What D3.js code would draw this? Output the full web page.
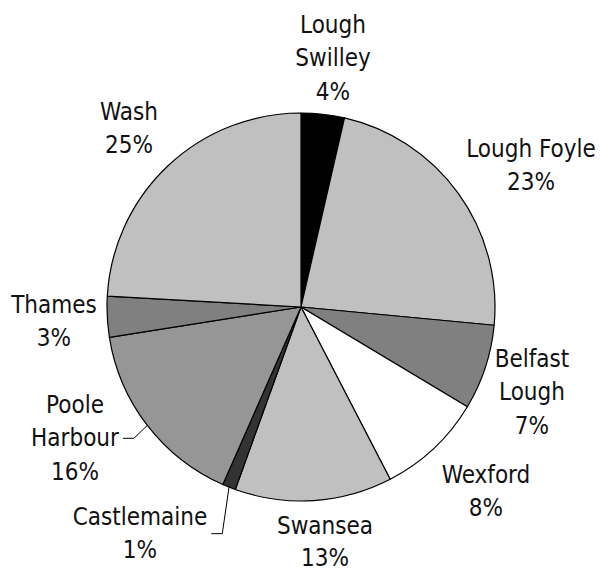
<!DOCTYPE html>
<html>
<head>
<meta charset="utf-8">
<script src="https://cdn.jsdelivr.net/npm/d3@7"></script>
<style>
  body { margin: 0; background: #fff; }
  text { font-family: "Liberation Sans Narrow", "DejaVu Sans Condensed", sans-serif; font-size: 24px; fill: #111; }
</style>
</head>
<body>
<svg id="chart" width="601" height="572"></svg>
<script>
// estuaries, clockwise from 12 o'clock
const names = ["Lough Swilley", "Lough Foyle", "Belfast Lough", "Wexford", "Swansea",
               "Castlemaine", "Poole Harbour", "Thames", "Wash"]
const shares = [3.6, 22.9, 7.1, 8.8, 13.1, 1.1, 15.9, 3.4, 24.1]
const pctLabels = ["4%", "23%", "7%", "8%", "13%", "1%", "16%", "3%", "25%"]
const labelLines = [["Lough", "Swilley"], ["Lough Foyle"], ["Belfast", "Lough"], ["Wexford"],
                    ["Swansea"], ["Castlemaine"], ["Poole", "Harbour"], ["Thames"], ["Wash"]]
const fills = ["#000000", "#c0c0c0", "#808080", "#ffffff", "#c0c0c0",
               "#333333", "#969696", "#808080", "#c0c0c0"]

// label anchors: centre x, baseline of first line
const labelPos = [[333, 33], [531, 157], [532, 367], [486, 483], [325, 534],
                  [140, 525], [75, 413], [54, 313], [129, 120]]
const leaders = {5: true, 6: true}

const cx = 301, cy = 307, radius = 194, lineH = 33.3

const svg = d3.select("#chart")
const g = svg.append("g").attr("transform", `translate(${cx},${cy})`)

const pie = d3.pie().sort(null).value((d) => d)
const arcs = pie(shares)
const arc = d3.arc().innerRadius(0).outerRadius(radius)

g.selectAll("path.slice")
    .data(arcs)
    .enter()
    .append("path")
    .classed("slice", true)
    .attr("d", arc)
    .attr("fill", (d, i) => fills[i])
    .attr("stroke", "#000")
    .attr("stroke-width", 1.2)
    .attr("stroke-linejoin", "round")

const labels = svg.selectAll("text.lbl")
    .data(arcs)
    .enter()
    .append("text")
    .classed("lbl", true)
    .attr("text-anchor", "middle")

labels.each(function (d, i) {
    const t = d3.select(this)
    const lines = labelLines[i].concat([pctLabels[i]])
    lines.forEach((s, k) => {
        t.append("tspan")
            .attr("x", labelPos[i][0])
            .attr("y", labelPos[i][1] + k * (i === 4 ? 32 : lineH))
            .text(s)
    })
})

// leader lines for the two small left-hand labels
Object.keys(leaders).forEach((k) => {
    const i = +k
    const a = arcs[i]
    const mid = (a.startAngle + a.endAngle) / 2
    const ex = cx + radius * Math.sin(mid)
    const ey = cy - radius * Math.cos(mid)
    const node = labels.filter((d, j) => j === i).node()
    const bb = node.getBBox()
    const ly = bb.y + bb.height / 2
    const tsp = d3.select(node).selectAll("tspan").nodes()
    const firstW = tsp[tsp.length - 2].getComputedTextLength()
    const lx = labelPos[i][0] + firstW / 2 + 4
    svg.append("path")
        .attr("d", d3.line()([[lx, ly], [lx + 11, ly], [ex, ey]]))
        .attr("fill", "none")
        .attr("stroke", "#000")
        .attr("stroke-width", 1)
})
</script>
</body>
</html>
